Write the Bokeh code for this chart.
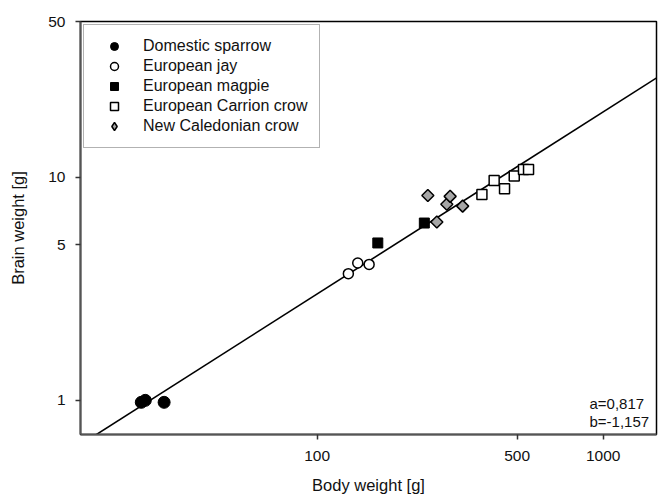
import math
from bokeh.plotting import figure
from bokeh.models import (FixedTicker, Legend, LegendItem, Label, Range1d,
                          CustomJSTickFormatter)
from bokeh.embed import file_html
from bokeh.resources import INLINE

# ---- data ----
sparrow_body = [24.3, 25.1, 29.2]
sparrow_brain = [0.98, 1.00, 0.98]
jay_body = [128.6, 138.7, 152.0]
jay_brain = [3.70, 4.13, 4.07]
magpie_body = [163.0, 237.0]
magpie_brain = [5.08, 6.24]
carrion_body = [376.7, 415.7, 451.9, 488.6, 526.4, 548.2]
carrion_brain = [8.37, 9.69, 8.90, 10.14, 10.86, 10.86]
nc_body = [243.8, 262.1, 284.0, 291.7, 322.6]
nc_brain = [8.30, 6.31, 7.57, 8.22, 7.43]

fit_a = 0.817
fit_b = -1.157
fit_body = [14.0, 1600.0]
fit_brain = [10 ** fit_b * v ** fit_a for v in fit_body]

x_ticks = [100, 500, 1000]
y_ticks = [1, 5, 10, 50]

FONT = "Liberation Sans"

p = figure(width=660, height=497, x_axis_type="log", y_axis_type="log",
           x_range=Range1d(14.9, 1535), y_range=Range1d(0.703, 50),
           output_backend="svg", toolbar_location=None,
           min_border_left=80, min_border_right=4, min_border_top=21,
           min_border_bottom=63)

p.xgrid.visible = False
p.ygrid.visible = False
p.outline_line_color = "black"
p.outline_line_width = 1.5

fmt = CustomJSTickFormatter(code="return String(Math.round(tick));")
for ax, ticks in ((p.xaxis, x_ticks), (p.yaxis, y_ticks)):
    ax.ticker = FixedTicker(ticks=ticks, minor_ticks=[])
    ax.formatter = fmt
    ax.axis_line_color = "#555555"
    ax.axis_line_width = 2
    ax.major_tick_line_color = "#333333"
    ax.major_tick_line_width = 1.5
    ax.major_tick_out = 5
    ax.major_tick_in = 0
    ax.minor_tick_line_color = None
    ax.major_label_text_font = FONT
    ax.major_label_text_font_size = "15.5px"
    ax.major_label_text_color = "#111111"
    ax.axis_label_text_font = FONT
    ax.axis_label_text_font_size = "16.5px"
    ax.axis_label_text_font_style = "normal"
    ax.axis_label_text_color = "#111111"

p.xaxis.major_label_standoff = 11
p.yaxis.major_label_standoff = 10
p.xaxis.axis_label = "Body weight [g]"
p.yaxis.axis_label = "Brain weight [g]"
p.xaxis.axis_label_standoff = 12
p.yaxis.axis_label_standoff = 18

p.line(fit_body, fit_brain, line_color="black", line_width=1.6)

r_sp = p.scatter(sparrow_body, sparrow_brain, marker="circle", size=12,
                 fill_color="black", line_color="black", line_width=1)
r_jay = p.scatter(jay_body, jay_brain, marker="circle", size=10,
                  fill_color="white", line_color="black", line_width=1.5)
r_mag = p.scatter(magpie_body, magpie_brain, marker="square", size=10,
                  fill_color="black", line_color="black", line_width=1)
r_car = p.scatter(carrion_body, carrion_brain, marker="square", size=10,
                  fill_color="white", line_color="black", line_width=1.5)
r_nc = p.scatter(nc_body, nc_brain, marker="square", size=8.5, angle=math.pi / 4,
                 fill_color="#a6a6a6", line_color="black", line_width=1.5)
# legend-only twin (drawn as a diamond in the legend box)
r_nc_leg = p.scatter(nc_body, nc_brain, marker="diamond", size=10,
                     fill_color="#a6a6a6", line_color="black", line_width=1.5)
r_nc_leg.visible = False

legend = Legend(items=[
    LegendItem(label="Domestic sparrow", renderers=[r_sp]),
    LegendItem(label="European jay", renderers=[r_jay]),
    LegendItem(label="European magpie", renderers=[r_mag]),
    LegendItem(label="European Carrion crow", renderers=[r_car]),
    LegendItem(label="New Caledonian crow", renderers=[r_nc_leg]),
], location="top_left")
legend.margin = 3
legend.padding = 11
legend.spacing = 0
legend.glyph_width = 38
legend.glyph_height = 20
legend.label_height = 20
legend.label_standoff = 10
legend.label_text_font = FONT
legend.label_text_font_size = "16px"
legend.label_text_color = "#111111"
legend.border_line_color = "#666666"
legend.border_line_width = 1.5
legend.background_fill_color = "white"
p.add_layout(legend)

p.add_layout(Label(x=895, y=0.966, text="a=0,817", text_font=FONT,
                   text_font_size="15px", text_baseline="middle",
                   text_color="#111111"))
p.add_layout(Label(x=895, y=0.805, text="b=-1,157", text_font=FONT,
                   text_font_size="15px", text_baseline="middle",
                   text_color="#111111"))

open("out.html", "w").write(file_html(p, INLINE))
